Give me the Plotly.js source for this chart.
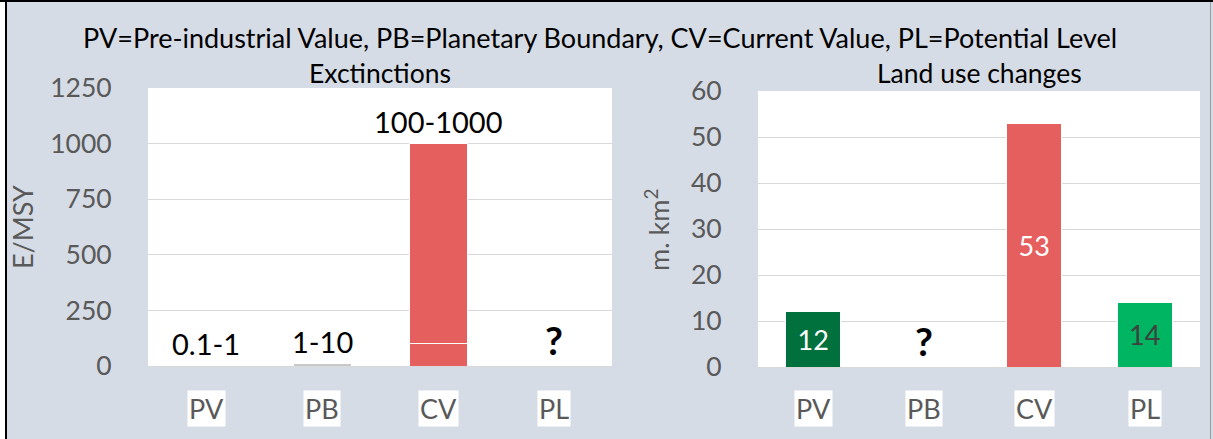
<!DOCTYPE html>
<html>
<head>
<meta charset="utf-8">
<script src="https://cdn.plot.ly/plotly-3.0.1.min.js"></script>
<style>
  html, body { margin: 0; padding: 0; background: #ffffff; }
  #wrap { position: relative; width: 1213px; height: 439px; overflow: hidden; }
  #chart { position: absolute; left: 0; top: 0; width: 1213px; height: 439px; }
  .edge { position: absolute; pointer-events: none; }
</style>
</head>
<body>
<div id="wrap">
  <div id="chart"></div>
  <div class="edge" style="left:0;top:0;width:5px;height:439px;background:#ffffff;"></div>
  <div class="edge" style="left:5px;top:0;width:2px;height:439px;background:#000000;"></div>
  <div class="edge" style="left:0;top:0;width:1213px;height:2px;background:#000000;"></div>
  <div class="edge" style="left:1210px;top:2px;width:1px;height:437px;background:#9a9a9a;"></div>
</div>
<script>
// ---- data ----
const categories = ['PV', 'PB', 'CV', 'PL'];
// Extinctions (E/MSY): ranges shown as labels; bars drawn to the upper bound
const extBase   = [1, 10, 100, 0];     // lower part of bar (CV lower bound 100)
const extUpper  = [0, 0, 900, 0];      // added part up to 1000 for CV
const extTop    = [1, 10, 1000, 0];    // label anchor values
const extLabels = ['0.1-1', '1-10', '100-1000', '?'];
// Land use changes (m. km²)
const landValues = [12, null, 53, 14];
const landLabels = ['12', '?', '53', '14'];
const extTicks  = [0, 250, 500, 750, 1000, 1250];
const landTicks = [0, 10, 20, 30, 40, 50, 60];

const mainTitle = 'PV=Pre-industrial Value, PB=Planetary Boundary, CV=Current Value, PL=Potential Level';
const leftTitle = 'Exctinctions';
const rightTitle = 'Land use changes';
const leftYTitle = 'E/MSY';
const rightYTitle = 'm. km<sup>2</sup>';

// ---- styles ----
const FONT = 'Lato, "Open Sans", sans-serif';
const BG = '#D6DCE5';
const RED = '#E65F5F';
const DKGREEN = '#00703C';
const LTGREEN = '#00B562';
const tickColor = '#595959';
const landColors = { PV: DKGREEN, CV: RED, PL: LTGREEN };
const landTextColors = { PV: '#ffffff', CV: '#ffffff', PL: '#404040' };

// bars of the land-use chart only where a value exists
const landIdx = categories.map((c, i) => i).filter(i => landValues[i] !== null);

const traces = [
  {
    type: 'bar', x: categories, y: extBase, xaxis: 'x', yaxis: 'y',
    marker: { color: ['#C9C9C9', '#C9C9C9', RED, RED], line: { color: '#ffffff', width: 1 } },
    width: 0.5, hoverinfo: 'none', showlegend: false
  },
  {
    type: 'bar', x: categories, y: extUpper, xaxis: 'x', yaxis: 'y',
    marker: { color: RED, line: { color: '#ffffff', width: 1 } },
    width: 0.5, hoverinfo: 'none', showlegend: false
  },
  {
    type: 'bar', x: landIdx.map(i => categories[i]), y: landIdx.map(i => landValues[i]),
    xaxis: 'x2', yaxis: 'y2',
    marker: { color: landIdx.map(i => landColors[categories[i]]), line: { color: '#ffffff', width: 1 } },
    width: 0.5, text: landIdx.map(i => landLabels[i]), textposition: 'inside', insidetextanchor: 'middle',
    textangle: 0,
    insidetextfont: { family: FONT, size: 27, color: landIdx.map(i => landTextColors[categories[i]]) },
    hoverinfo: 'none', showlegend: false
  }
];

const annotations = [];
// main & chart titles
annotations.push({ xref: 'paper', yref: 'paper', x: 600 / 1213, y: 1 - 37 / 439, text: mainTitle,
  showarrow: false, xanchor: 'center', yanchor: 'middle', font: { family: FONT, size: 27, color: '#000' } });
annotations.push({ xref: 'x domain', yref: 'paper', x: 0.5, y: 1 - 73 / 439, text: leftTitle,
  showarrow: false, xanchor: 'center', yanchor: 'middle', font: { family: FONT, size: 26.5, color: '#000' } });
annotations.push({ xref: 'x2 domain', yref: 'paper', x: 0.5, y: 1 - 73 / 439, text: rightTitle,
  showarrow: false, xanchor: 'center', yanchor: 'middle', font: { family: FONT, size: 26.5, color: '#000' } });
// axis titles
annotations.push({ xref: 'paper', yref: 'paper', x: 22 / 1213, y: 1 - 227 / 439, text: leftYTitle, textangle: -90,
  showarrow: false, xanchor: 'center', yanchor: 'middle', font: { family: FONT, size: 27, color: tickColor } });
annotations.push({ xref: 'paper', yref: 'paper', x: 657 / 1213, y: 1 - 230 / 439, text: rightYTitle, textangle: -90,
  showarrow: false, xanchor: 'center', yanchor: 'middle', font: { family: FONT, size: 27, color: tickColor } });
// outside labels, extinctions
categories.forEach((c, i) => {
  const isQ = extLabels[i] === '?';
  annotations.push({ xref: 'x', yref: 'y', x: c, y: extTop[i], text: isQ ? '<b>?</b>' : extLabels[i],
    showarrow: false, xanchor: 'center', yanchor: 'bottom', yshift: isQ ? 1 : 3,
    font: { family: FONT, size: isQ ? 39 : 29, color: '#000' } });
});
// outside labels, land use (categories without a bar)
categories.forEach((c, i) => {
  if (landValues[i] !== null) return;
  annotations.push({ xref: 'x2', yref: 'y2', x: c, y: 0, text: '<b>' + landLabels[i] + '</b>',
    showarrow: false, xanchor: 'center', yanchor: 'bottom', yshift: 1,
    font: { family: FONT, size: 39, color: '#000' } });
});
// category labels with white boxes
categories.forEach((c) => {
  annotations.push({ xref: 'x', yref: 'y domain', x: c, y: 0, yshift: -24, text: c, showarrow: false,
    xanchor: 'center', yanchor: 'top', bgcolor: '#ffffff', borderpad: 1,
    font: { family: FONT, size: 27, color: tickColor } });
  annotations.push({ xref: 'x2', yref: 'y2 domain', x: c, y: 0, yshift: -23, text: c, showarrow: false,
    xanchor: 'center', yanchor: 'top', bgcolor: '#ffffff', borderpad: 1,
    font: { family: FONT, size: 27, color: tickColor } });
});

const yCommon = {
  showgrid: true, gridcolor: '#D9D9D9', gridwidth: 1, zeroline: false,
  showline: false, ticks: 'outside', ticklen: 30, tickcolor: 'rgba(0,0,0,0)',
  tickfont: { family: FONT, size: 26.5, color: tickColor }, fixedrange: true
};
const xCommon = {
  type: 'category', categoryorder: 'array', categoryarray: categories, range: [-0.5, categories.length - 0.5],
  showticklabels: false, ticks: '', showgrid: false, zeroline: false, showline: true,
  linecolor: '#D9D9D9', fixedrange: true
};

const layout = {
  width: 1213, height: 439,
  paper_bgcolor: BG, plot_bgcolor: '#ffffff',
  margin: { l: 0, r: 0, t: 0, b: 0, pad: 0 },
  barmode: 'stack', bargap: 0.5,
  showlegend: false,
  xaxis: Object.assign({}, xCommon, { domain: [148 / 1213, 612 / 1213], anchor: 'y' }),
  yaxis: Object.assign({}, yCommon, { domain: [(439 - 366) / 439, (439 - 88) / 439], anchor: 'x',
    range: [0, 1250], tickvals: extTicks, ticktext: extTicks.map(String) }),
  xaxis2: Object.assign({}, xCommon, { domain: [758 / 1213, 1200 / 1213], anchor: 'y2' }),
  yaxis2: Object.assign({}, yCommon, { domain: [(439 - 367) / 439, (439 - 91) / 439], anchor: 'x2',
    range: [0, 60], tickvals: landTicks, ticktext: landTicks.map(String) }),
  annotations: annotations
};

Plotly.newPlot('chart', traces, layout, { displayModeBar: false, staticPlot: true });
</script>
</body>
</html>
